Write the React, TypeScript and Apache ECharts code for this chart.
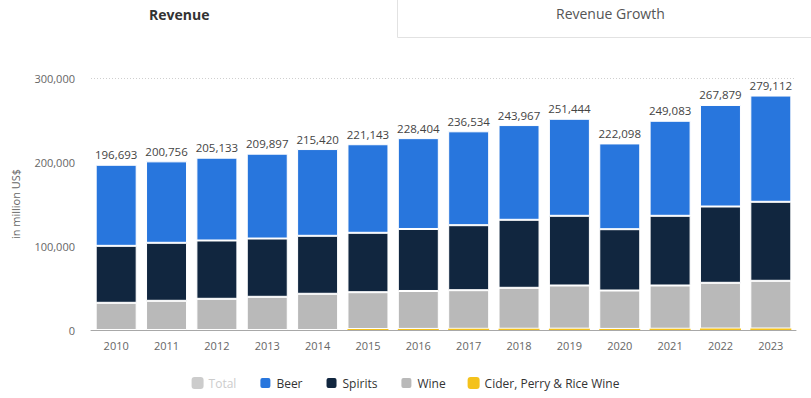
import React, { useEffect, useRef } from "react";
import * as echarts from "echarts";

const years = ["2010", "2011", "2012", "2013", "2014", "2015", "2016", "2017", "2018", "2019", "2020", "2021", "2022", "2023"];
const totals = [196693, 200756, 205133, 209897, 215420, 221143, 228404, 236534, 243967, 251444, 222098, 249083, 267879, 279112];
const beer = [96490, 96960, 98580, 101000, 103280, 105440, 108160, 111770, 112780, 115490, 102100, 113130, 120860, 126490];
const spirits = [67820, 69040, 69410, 69380, 69040, 70700, 73810, 77380, 80950, 82970, 72980, 82970, 90830, 94050];
const wine = [32380, 34760, 37140, 39520, 43100, 43800, 45130, 45980, 48740, 51380, 45720, 51480, 54490, 56770];
const cider = [0, 0, 0, 0, 0, 1200, 1300, 1400, 1500, 1600, 1300, 1500, 1700, 1800];
const legendNames = ["Total", "Beer", "Spirits", "Wine", "Cider, Perry & Rice Wine"];

const FONT = "'Open Sans', 'Noto Sans', sans-serif";

export default function App() {
  const ref = useRef<HTMLDivElement>(null);
  useEffect(() => {
    if (!ref.current) return;
    const chart = echarts.init(ref.current, null, { renderer: "svg" });
    const fmt = (v: number) => v.toLocaleString("en-US");
    const barBase = {
      type: "bar",
      stack: "rev",
      barWidth: 41,
      itemStyle: { borderColor: "#ffffff", borderWidth: 1 },
      emphasis: { disabled: true },
    };
    chart.setOption({
      animation: false,
      textStyle: { fontFamily: FONT },
      grid: { left: 91, right: 15, top: 78, bottom: 68, containLabel: false },
      legend: {
        data: legendNames,
        top: 371,
        left: "center",
        icon: "roundRect",
        itemWidth: 12,
        itemHeight: 12,
        itemGap: 22,
        selected: { Total: false },
        inactiveColor: "#cccccc",
        textStyle: { fontFamily: FONT, fontSize: 12, color: "#333333" },
      },
      xAxis: {
        type: "category",
        data: years,
        axisTick: { show: false },
        axisLine: { lineStyle: { color: "#a8a8a8", width: 1 } },
        axisLabel: { color: "#666666", fontSize: 11, margin: 10, fontFamily: FONT },
      },
      yAxis: {
        type: "value",
        min: 0,
        max: 300000,
        interval: 100000,
        name: "in million US$",
        nameLocation: "middle",
        nameGap: 70,
        nameTextStyle: { color: "#666666", fontSize: 11, fontFamily: FONT },
        axisLabel: { color: "#666666", fontSize: 11, margin: 16, fontFamily: FONT, formatter: (v: number) => fmt(v) },
        splitLine: {
          show: true,
          lineStyle: { type: [1, 2], color: ["rgba(0,0,0,0)", "rgba(0,0,0,0)", "rgba(0,0,0,0)", "#cfcfcf"] },
        },
      },
      series: [
        { name: "Total", type: "bar", data: totals, itemStyle: { color: "#cccccc" } },
        { ...barBase, name: "Cider, Perry & Rice Wine", data: cider, z: 5, itemStyle: { color: "#f4c21c", borderWidth: 0 } },
        { ...barBase, name: "Wine", data: wine, itemStyle: { ...barBase.itemStyle, color: "#b9b9b9" } },
        { ...barBase, name: "Spirits", data: spirits, itemStyle: { ...barBase.itemStyle, color: "#11263f" } },
        {
          ...barBase,
          name: "Beer",
          data: beer,
          itemStyle: { ...barBase.itemStyle, color: "#2876dd" },
          label: {
            show: true,
            position: "top",
            distance: 4,
            color: "#444444",
            fontSize: 11.5,
            fontFamily: FONT,
            formatter: (p: any) => fmt(totals[p.dataIndex]),
          },
        },
      ],
      graphic: [
        {
          type: "text",
          left: 181 - 32,
          top: 7,
          style: { text: "Revenue", fontSize: 14, fontWeight: "bold", fill: "#333333", fontFamily: FONT },
        },
        {
          type: "polyline",
          shape: { points: [[397.5, 0], [397.5, 37.5], [811, 37.5]] },
          style: { stroke: "#e2e2e2", lineWidth: 1, fill: "none" },
        },
        {
          type: "text",
          left: 556,
          top: 6,
          style: { text: "Revenue Growth", fontSize: 14, fill: "#555555", fontFamily: FONT },
        },
      ],
    });
    return () => chart.dispose();
  }, []);
  return (
    <div
      ref={ref}
      style={{ position: "fixed", left: 0, top: 0, width: 811, height: 398, background: "#ffffff" }}
    />
  );
}
